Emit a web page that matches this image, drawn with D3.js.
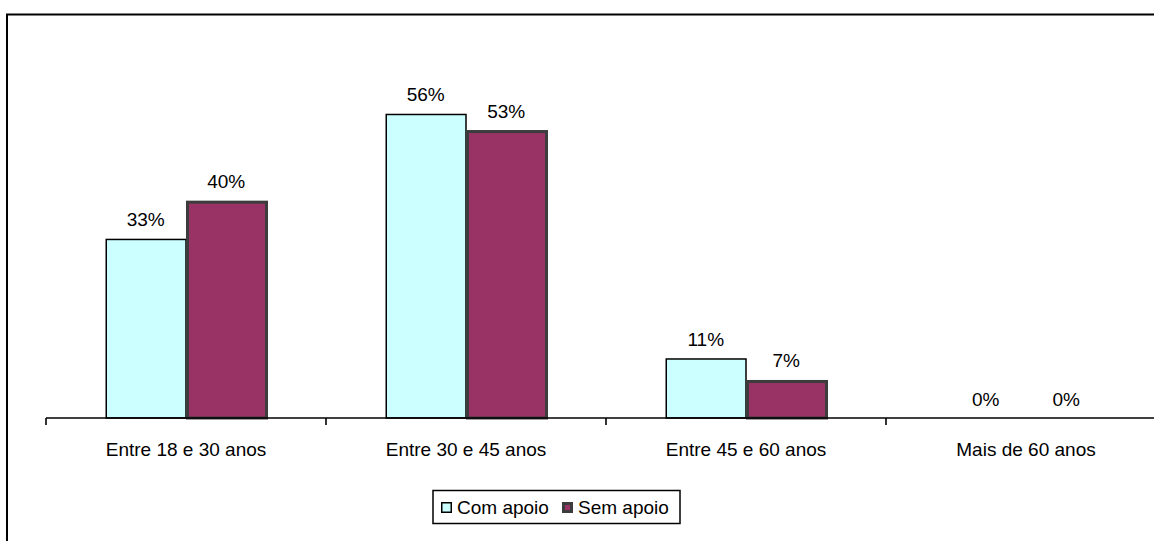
<!DOCTYPE html>
<html>
<head>
<meta charset="utf-8">
<script src="https://cdn.jsdelivr.net/npm/d3@7"></script>
<style>
  html, body { margin: 0; padding: 0; background: #fff; }
  svg { display: block; font-family: "Liberation Sans", Arial, sans-serif; }
</style>
</head>
<body>
<svg id="chart" width="1154" height="541"></svg>
<script>
// Age groups and the share of respondents in each, with and without support
const categories = ["Entre 18 e 30 anos", "Entre 30 e 45 anos", "Entre 45 e 60 anos", "Mais de 60 anos"];
const seriesNames = ["Com apoio", "Sem apoio"];
const comApoio = [33, 56, 11, 0];
const semApoio = [40, 53, 7, 0];

const seriesValues = [comApoio, semApoio];
const fills = ["#CCFFFF", "#993366"];
const strokes = ["#000000", "#3c3c3c"];
const strokeWidths = [1.5, 3];

const svg = d3.select("#chart");

// outer frame (runs off the right and bottom edges)
svg.append("rect")
  .attr("x", 7).attr("y", 14.5)
  .attr("width", 1200).attr("height", 600)
  .attr("fill", "none").attr("stroke", "#000").attr("stroke-width", 2);

const x0 = d3.scaleBand().domain(categories).range([46, 1166]).padding(0);
const x1 = d3.scaleBand().domain(seriesNames)
  .range([x0.bandwidth() * 0.2125, x0.bandwidth() * 0.7875]).padding(0);
const y = d3.scaleLinear().domain([0, 60]).range([418, 92]);

// bars
const groups = svg.append("g").selectAll("g")
  .data(categories)
  .join("g")
  .attr("transform", d => `translate(${x0(d)},0)`);

groups.selectAll("rect")
  .data((d, i) => seriesNames.map((s, k) => ({ s, k, v: seriesValues[k][i] })))
  .join("rect")
  .filter(d => d.v > 0)
  .attr("x", d => x1(d.s) + strokeWidths[d.k] / 2)
  .attr("y", d => y(d.v) + strokeWidths[d.k] / 2)
  .attr("width", d => x1.bandwidth() - strokeWidths[d.k] / 2)
  .attr("height", d => y(0) - y(d.v) - strokeWidths[d.k] / 2)
  .attr("fill", d => fills[d.k])
  .attr("stroke", d => strokes[d.k])
  .attr("stroke-width", d => strokeWidths[d.k]);

// value labels
groups.selectAll("text.val")
  .data((d, i) => seriesNames.map((s, k) => ({ s, k, v: seriesValues[k][i] })))
  .join("text")
  .attr("class", "val")
  .attr("x", d => x1(d.s) + x1.bandwidth() / 2)
  .attr("y", d => y(d.v) - 12.5)
  .attr("text-anchor", "middle")
  .attr("font-size", 19)
  .attr("fill", "#000")
  .text(d => d.v + "%");

// category axis
const axis = d3.axisBottom(x0).tickSize(0).tickPadding(0);
const axisG = svg.append("g").attr("transform", "translate(0,418)").call(axis);
axisG.select(".domain").remove();
axisG.selectAll(".tick text")
  .attr("y", 38)
  .attr("dy", 0)
  .attr("font-size", 19)
  .attr("font-family", "Liberation Sans, Arial, sans-serif")
  .attr("fill", "#000");

svg.append("line")
  .attr("x1", 46).attr("x2", 1166)
  .attr("y1", 418).attr("y2", 418)
  .attr("stroke", "#000").attr("stroke-width", 1.6);

const boundaries = categories.map(c => x0(c)).concat([x0.range()[1]]);
svg.append("g").selectAll("line")
  .data(boundaries)
  .join("line")
  .attr("x1", d => d).attr("x2", d => d)
  .attr("y1", 418).attr("y2", 425)
  .attr("stroke", "#000").attr("stroke-width", 1.6);

// legend
const legend = svg.append("g");
legend.append("rect")
  .attr("x", 433).attr("y", 490.5)
  .attr("width", 247).attr("height", 33)
  .attr("fill", "#fff").attr("stroke", "#000").attr("stroke-width", 1.5);

const legendX = [441, 562];
seriesNames.forEach((name, k) => {
  legend.append("rect")
    .attr("x", legendX[k] + strokeWidths[k] / 2).attr("y", 502 + strokeWidths[k] / 2)
    .attr("width", 11 - strokeWidths[k]).attr("height", 11 - strokeWidths[k])
    .attr("fill", fills[k]).attr("stroke", strokes[k]).attr("stroke-width", strokeWidths[k]);
  legend.append("text")
    .attr("x", legendX[k] + 16).attr("y", 514)
    .attr("font-size", 19)
    .attr("fill", "#000")
    .text(name);
});
</script>
</body>
</html>
